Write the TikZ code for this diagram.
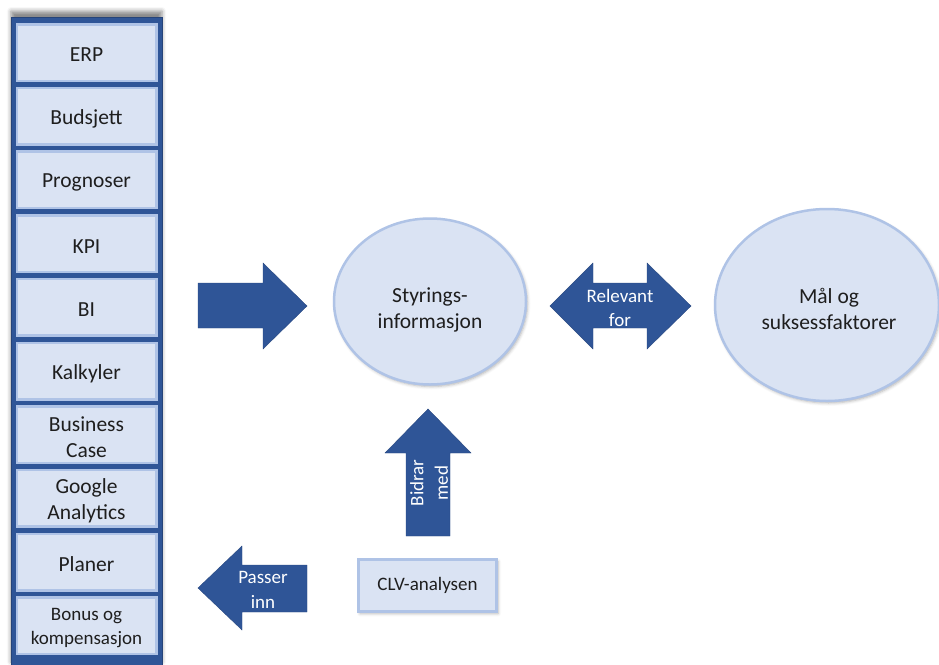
\documentclass[tikz,border=0pt]{standalone}
\usepackage{fontspec}
\setmainfont{Carlito}
\usetikzlibrary{shapes.geometric,shadows.blur}
\definecolor{navy}{HTML}{2F5597}
\definecolor{pale}{HTML}{DAE3F3}
\definecolor{rim}{HTML}{AFC3E6}
\definecolor{ink}{HTML}{1E1E1E}
\begin{document}
\begin{tikzpicture}[x=1pt,y=-1pt,
  bigfont/.style={font=\fontsize{21.5}{26}\selectfont},
  smallfont/.style={font=\fontsize{19}{24.5}\selectfont},
  listbox/.style={draw=rim, fill=pale, line width=2.5pt, minimum width=139.5pt,
    minimum height=56.5pt, inner sep=0pt},
  listtext/.style={align=center, text=ink, bigfont, inner sep=0pt},
  oval/.style={ellipse, draw=rim, fill=pale, line width=2.5pt, inner sep=0pt,
    blur shadow={shadow xshift=1.5pt, shadow yshift=-2pt, shadow blur radius=3pt, shadow opacity=30}},
  ovaltext/.style={align=center, text=ink, bigfont, inner sep=0pt},
  blockarrow/.style={fill=navy, draw=navy!85!black, line width=0.4pt},
  arrowtext/.style={align=center, text=white, smallfont, inner sep=0pt},
]
\useasboundingbox (0,0) rectangle (939,664);

% list column with a soft shadow above it
\node[fill=navy, draw=navy!80!black, line width=0.8pt, inner sep=0pt,
  minimum width=151pt, minimum height=651pt,
  blur shadow={shadow xshift=0pt, shadow yshift=6pt, shadow blur radius=4pt, shadow opacity=45}]
  (column) at (86.5,342.5) {};

\foreach \name/\txt [count=\i from 0] in {
  erp/ERP, budsjett/Budsjett, prognoser/Prognoser, kpi/KPI, bi/BI,
  kalkyler/Kalkyler, bcase/{Business\\Case}, ga/{Google\\Analytics}, planer/Planer}
{
  \node[listbox] (\name) at (86.5, 52.5+63.7*\i) {};
  \node[listtext] (\name-txt) at ([yshift=-2.5pt]\name.center) {\txt};
}
\node[listbox] (bonus) at (86.5, 625.8) {};
\node[listtext, font=\fontsize{19}{23.5}\selectfont] (bonus-txt)
  at ([yshift=-2pt]bonus.center) {Bonus og\\kompensasjon};

% ellipses
\node[oval, minimum width=192pt, minimum height=166pt] (styr) at (430,301.5) {};
\node[ovaltext] (styrtxt) at (430,309.5) {Styrings-\\informasjon};
\node[oval, minimum width=224pt, minimum height=192pt] (maal) at (827,305) {};
\node[ovaltext] (maaltxt) at (829,308.5) {Mål og\\suksessfaktorer};

% CLV box
\node[draw=rim, fill=pale, line width=3pt, minimum width=138pt, minimum height=52pt,
  inner sep=0pt, text=ink, smallfont,
  blur shadow={shadow xshift=1.5pt, shadow yshift=-2pt, shadow blur radius=3pt, shadow opacity=30}]
  (clv) at (427.5,585.5) {CLV-analysen};

% block arrows
\draw[blockarrow] (198,283) -- (263,283) -- (263,263) -- (307,306) -- (263,349)
  -- (263,328) -- (198,328) -- cycle;
\draw[blockarrow] (550,306) -- (593,263) -- (593,283) -- (647,283) -- (647,263)
  -- (691,306) -- (647,349) -- (647,328) -- (593,328) -- (593,349) -- cycle;
\draw[blockarrow] (428,409) -- (471,453) -- (450,453) -- (450,536) -- (406,536)
  -- (406,453) -- (385,453) -- cycle;
\draw[blockarrow] (198,588) -- (242,546) -- (242,565) -- (307,565) -- (307,612)
  -- (242,612) -- (242,630) -- cycle;

\node[arrowtext] (relevant) at (620,308) {Relevant\\for};
\node[arrowtext, rotate=90] (bidrar) at (429,483) {Bidrar\\med};
\node[arrowtext] (passer) at (263,590) {Passer\\inn};
\end{tikzpicture}
\end{document}
